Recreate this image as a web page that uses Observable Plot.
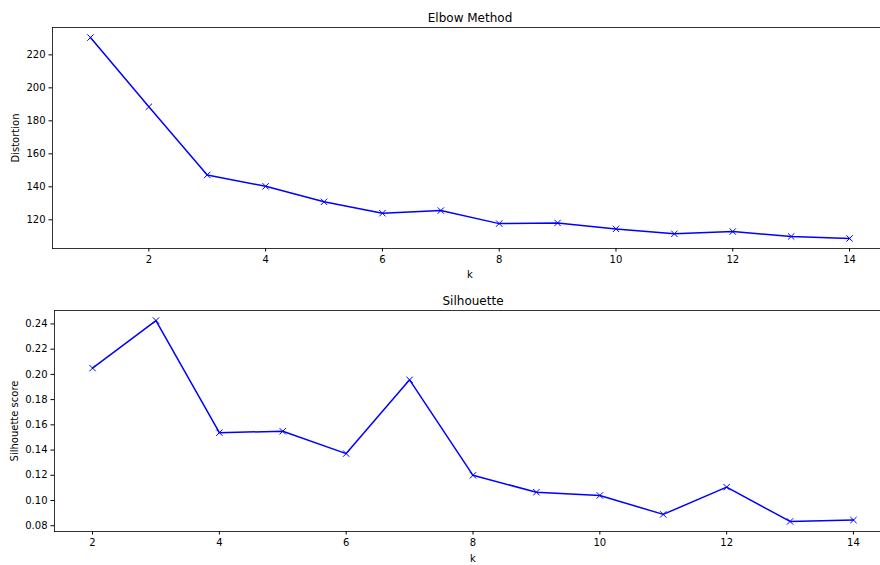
<!DOCTYPE html>
<html><head><meta charset="utf-8">
<script src="https://cdn.jsdelivr.net/npm/d3@7"></script>
<script src="https://cdn.jsdelivr.net/npm/@observablehq/plot@0.6"></script>
<style>
html,body{margin:0;padding:0;background:#fff;overflow:hidden;width:880px;height:565px;}
#wrap{position:relative;width:880px;height:565px;overflow:hidden;}
#top,#bot{position:absolute;left:0;}
#top{top:0}#bot{top:290px}
svg{max-width:none !important;}
</style></head><body><div id="wrap"><div id="top"></div><div id="bot"></div></div>
<script>
const kElbow = [1,2,3,4,5,6,7,8,9,10,11,12,13,14];
const distortion = [230.5,188.5,147.2,140.3,130.9,124.0,125.6,117.7,118.1,114.5,111.5,112.9,109.9,108.7];
const kSil = [2,3,4,5,6,7,8,9,10,11,12,13,14];
const silhouette = [0.205,0.2427,0.1538,0.1549,0.1372,0.1957,0.120,0.1066,0.104,0.089,0.1106,0.0834,0.0845];
const xTicks = [2,4,6,8,10,12,14];
const distortionTicks = [120,140,160,180,200,220];
const silhouetteTicks = [0.08,0.10,0.12,0.14,0.16,0.18,0.20,0.22,0.24];

function padded(vals){const [a,b]=d3.extent(vals);const m=(b-a)*0.05;return [a-m,b+m];}

// axes box extends past the right edge of the 880px window (as in the reference)
function panel({xs, ys, title, ylabel, yTicks, yFormat, height, mL, rightEdge, mT, mB, ylabelOffset, xlabelDy}){
  const data = xs.map((k,i)=>({k, v: ys[i]}));
  const shift = (rightEdge - 880) / 2;
  return Plot.plot({
    width:880, height, marginLeft:mL, marginRight:0, marginTop:mT, marginBottom:mB,
    style:{fontFamily:"DejaVu Sans, sans-serif", fontSize:"10px", color:"black", background:"white", maxWidth:"none"},
    x:{domain: padded(xs), range:[mL, rightEdge]},
    y:{domain: padded(ys)},
    marks:[
      Plot.axisX({ticks:xTicks, tickSize:3.5, tickPadding:3.5, label:null, fontSize:10}),
      Plot.axisY({ticks:yTicks, tickSize:3.5, tickPadding:3.5, tickFormat:yFormat, label:ylabel, labelAnchor:"center", labelArrow:"none", labelOffset:ylabelOffset, fontSize:10}),
      Plot.frame({anchor:"top", stroke:"black", strokeWidth:0.8}),
      Plot.frame({anchor:"bottom", stroke:"black", strokeWidth:0.8}),
      Plot.frame({anchor:"left", stroke:"black", strokeWidth:0.8}),
      Plot.line(data, {x:"k", y:"v", stroke:"#0000ff", strokeWidth:1.5}),
      Plot.dot(data, {x:"k", y:"v", symbol:"times", r:3, stroke:"#0000ff", strokeWidth:1}),
      Plot.text(["k"], {text:d=>d, frameAnchor:"bottom", dx:shift, dy:xlabelDy, lineAnchor:"bottom", fontSize:10, fill:"black"}),
      Plot.text([title], {text:d=>d, frameAnchor:"top", dx:shift, dy:-6, lineAnchor:"bottom", fontSize:12, fill:"black"})
    ]
  });
}

document.getElementById("top").appendChild(panel({
  xs:kElbow, ys:distortion, title:"Elbow Method", ylabel:"Distortion",
  yTicks:distortionTicks, yFormat:d3.format("d"),
  height:290, mL:52, rightEdge:887, mT:27, mB:42, ylabelOffset:41, xlabelDy:29
}));
document.getElementById("bot").appendChild(panel({
  xs:kSil, ys:silhouette, title:"Silhouette", ylabel:"Silhouette score",
  yTicks:silhouetteTicks, yFormat:d3.format(".2f"),
  height:275, mL:54, rightEdge:891, mT:20, mB:34, ylabelOffset:44, xlabelDy:30
}));
</script></body></html>
